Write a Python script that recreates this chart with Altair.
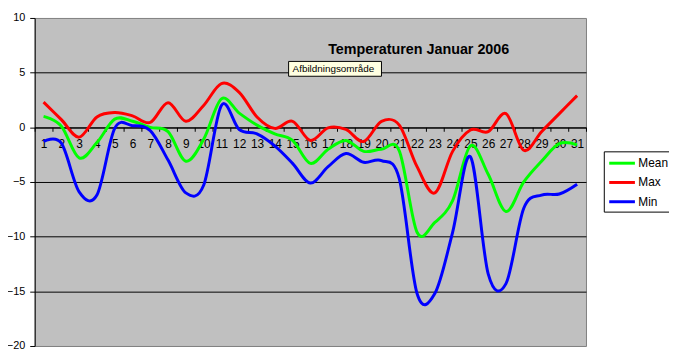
import altair as alt
import pandas as pd

days = list(range(1, 32))
series_names = ["Mean", "Max", "Min"]
series_colors = ["#00FF00", "#FF0000", "#0000FF"]

mean_vals = [1.0, 0.1, -2.8, -1.4, 0.75, 0.55, 0.0, -0.4, -3.1, -1.1,
             2.6, 1.3, 0.2, -0.6, -1.2, -3.3, -2.0, -1.2, -2.2, -2.0,
             -2.15, -9.6, -8.7, -6.7, -1.7, -4.3, -7.7, -5.0, -3.1, -1.5, -1.6]
max_vals = [2.3, 0.7, -0.9, 0.95, 1.35, 1.05, 0.45, 2.25, 0.55, 2.0,
            4.0, 3.2, 0.95, -0.1, 0.55, -1.2, -0.05, -0.2, -1.3, 0.55,
            0.2, -3.6, -6.0, -2.2, -0.25, -0.4, 1.25, -2.1, -0.4, 1.25, 2.9]
min_vals = [-1.3, -1.45, -5.9, -6.2, -0.1, 0.15, -0.3, -3.0, -6.0, -5.3,
            2.0, -0.2, -0.6, -1.7, -3.3, -5.1, -3.6, -2.4, -3.2, -3.05,
            -4.7, -15.2, -15.2, -9.6, -2.7, -13.4, -14.3, -7.4, -6.2, -6.1, -5.2]

y_ticks = [-20, -15, -10, -5, 0, 5, 10]
x_tick_positions = [i + 0.5 for i in range(0, 32)]

title_text = "Temperaturen Januar 2006"
tooltip_text = "Afbildningsområde"

rows = []
for name, vals in zip(series_names, [mean_vals, max_vals, min_vals]):
    for d, v in zip(days, vals):
        rows.append({"day": d, "temp": v, "series": name})
df = pd.DataFrame(rows)

FONT = "Liberation Sans"
W, H = 558, 332
zero_offset = -(H * 20 / 30)

lines = alt.Chart(df).mark_line(interpolate="cardinal", strokeWidth=3).encode(
    x=alt.X("day:Q",
            scale=alt.Scale(domain=[0.5, 31.5], nice=False, zero=False),
            axis=alt.Axis(values=x_tick_positions, title=None, grid=False,
                          labelExpr="datum.value < 31 ? '' + (datum.value + 0.5) : ''",
                          labelOffset=9, labelAlign="center", labelFlush=False,
                          labelBound=False, labelOverlap=False,
                          offset=zero_offset, tickSize=4, tickColor="black",
                          domainColor="black", labelColor="black",
                          labelFont=FONT, labelFontSize=12, labelPadding=7)),
    y=alt.Y("temp:Q",
            scale=alt.Scale(domain=[-20, 10], nice=False),
            axis=alt.Axis(values=y_ticks, title=None, grid=True,
                          gridColor="black",
                          gridOpacity={"condition": {"test": "datum.value == 10 || datum.value == -20", "value": 0}, "value": 1},
                          tickSize=5, tickColor="black", domainColor="black",
                          labelColor="black", labelFont=FONT, labelFontSize=11,
                          labelPadding=5)),
    color=alt.Color("series:N",
                    scale=alt.Scale(domain=series_names, range=series_colors),
                    legend=alt.Legend(orient="none", legendX=576, legendY=135,
                                      title=None, strokeColor="black",
                                      fillColor="white", padding=4,
                                      symbolType="M-1,0H3", symbolSize=169,
                                      symbolStrokeWidth=3, labelFontSize=12,
                                      labelFont=FONT, labelColor="black",
                                      labelOffset=15, rowPadding=5.5, cornerRadius=0)),
)

title_mark = alt.Chart(alt.Data(values=[{"t": title_text}])).mark_text(
    align="left", baseline="alphabetic", font=FONT, fontSize=14.5,
    fontWeight="bold", color="black"
).encode(x=alt.value(297), y=alt.value(36), text="t:N")

tip_box = alt.Chart(alt.Data(values=[{"t": tooltip_text}])).mark_rect(
    fill="#FFFFE1", stroke="black", strokeWidth=1
).encode(x=alt.value(257), x2=alt.value(351), y=alt.value(44), y2=alt.value(59))

tip_text = alt.Chart(alt.Data(values=[{"t": tooltip_text}])).mark_text(
    align="left", baseline="middle", font=FONT, fontSize=10, color="black"
).encode(x=alt.value(261), y=alt.value(52), text="t:N")

chart = alt.layer(lines, title_mark, tip_box, tip_text).properties(
    width=W, height=H,
    autosize=alt.AutoSizeParams(type="none"),
    padding={"left": 27, "top": 8, "right": 84, "bottom": 4},
    background="white",
).configure_view(fill="#C0C0C0", stroke="#808080", strokeWidth=1)

chart.save("out.html", embed_options={"renderer": "svg", "actions": False})
